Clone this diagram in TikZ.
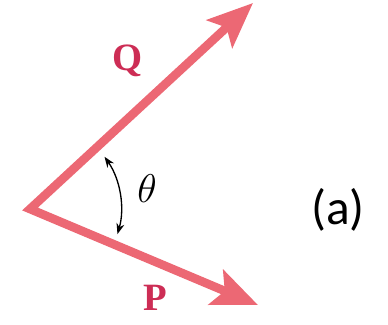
\documentclass[tikz,border=0pt]{standalone}
\usepackage{fontspec}
\newfontfamily\labelfont{Carlito}
\newfontfamily\vecfont{Liberation Serif}
\usetikzlibrary{arrows.meta}
\definecolor{vecpink}{RGB}{236,104,116}
\definecolor{lblred}{RGB}{205,45,85}

\begin{document}
\begin{tikzpicture}[
  x=0.75pt, y=-0.75pt,
  vec/.style={draw=vecpink, line width=6.5pt, line join=miter,
    {Stealth[length=34pt, width=28pt, inset=7pt]}-{Stealth[length=34pt, width=28pt, inset=7pt]}},
  veclbl/.style={text=lblred, font=\fontsize{29}{32}\selectfont\vecfont\bfseries},
  anglbl/.style={font=\fontsize{20}{24}\selectfont, scale=1.45},
  angarc/.style={draw=black, line width=1pt, {Stealth[length=8pt,width=6pt]}-{Stealth[length=8pt,width=6pt]}},
]
\useasboundingbox (0,0) rectangle (388,324);
% vertex and tips
\coordinate (O) at (30,209);
\coordinate (Qtip) at (253,3);
\coordinate (Ptip) at (258,305);
\draw[vec] (Qtip) -- (O) -- (Ptip);
% angle between the vectors
\draw[angarc] ([shift={(-35:91)}]O) arc[start angle=-35, end angle=16, radius=91];
% labels
\node[veclbl] (Q) at (128,61) {Q};
\node[veclbl] (P) at (155,298) {P};
\node[anglbl] (theta) at (147,189) {$\theta$};
\node[font=\fontsize{37}{42}\selectfont\labelfont] (a) at (338,210) {(a)};
\end{tikzpicture}
\end{document}
